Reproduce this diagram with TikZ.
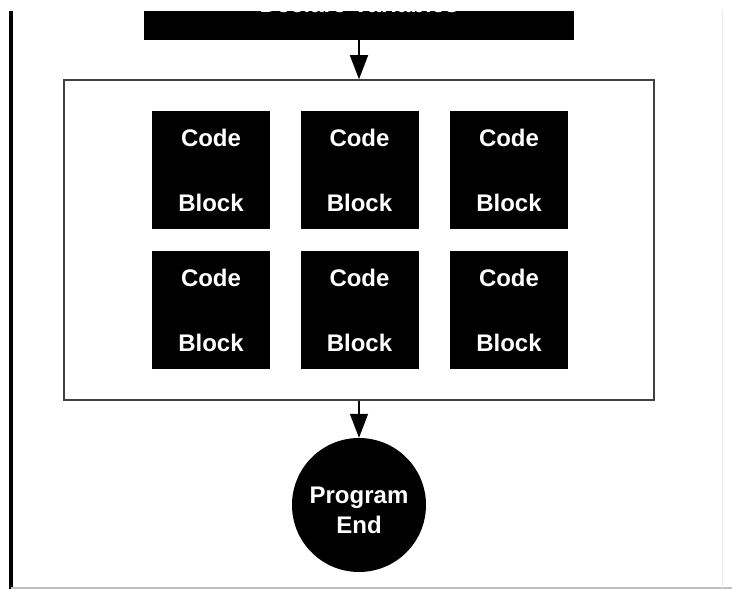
\documentclass[tikz,border=0pt]{standalone}
\usepackage{fontspec}
\setmainfont{Liberation Sans}
\usetikzlibrary{arrows.meta}

\tikzset{
  codeblk/.style={rectangle,fill=black,text=white,minimum width=118pt,minimum height=118pt,
    inner sep=0pt,align=center,font=\bfseries\fontsize{24}{65}\selectfont},
  endblob/.style={circle,fill=black,minimum size=134pt,inner sep=0pt},
  endtxt/.style={text=white,inner sep=0pt,align=center,font=\bfseries\fontsize{24}{30}\selectfont},
  flow/.style={line width=1.5pt,-{Triangle[length=24pt,width=18pt]}}
}

\begin{document}
\begin{tikzpicture}[x=1pt,y=-1pt]
  % Page
  \fill[white] (0,0) rectangle (732,591);
  \useasboundingbox (0,0) rectangle (732,591);
  % Frame lines
  \draw[line width=4pt] (11,11) -- (11,589);
  \draw[black!25,line width=1.2pt] (11,588) -- (732,588);
  \draw[black!8] (722,11) -- (722,588);
  % Declare variables (cut off at the top)
  \node[fill=black,minimum width=430pt,minimum height=29pt,inner sep=0pt] (decl) at (359,25.5) {};
  \begin{scope}
    \clip (decl.north west) rectangle (decl.south east);
    \node[anchor=base,text=white,inner sep=0pt,font=\bfseries\fontsize{24}{30}\selectfont]
      (decltxt) at (359,13) {Declare Variables};
  \end{scope}
  % Group of code blocks
  \node[draw=black!75,line width=1.5pt,minimum width=590pt,minimum height=320pt] (grp) at (359,240) {};
  \node[codeblk] (cb1) at (211,170) {Code\\Block};
  \node[codeblk] (cb2) at (359.5,170) {Code\\Block};
  \node[codeblk] (cb3) at (509,170) {Code\\Block};
  \node[codeblk] (cb4) at (211,310) {Code\\Block};
  \node[codeblk] (cb5) at (359.5,310) {Code\\Block};
  \node[codeblk] (cb6) at (509,310) {Code\\Block};
  % Program end
  \node[endblob] (pend) at (359,505) {};
  \node[endtxt] (pendtxt) at ([yshift=-5pt]pend.center) {Program\\End};
  % Arrows
  \draw[flow] (decl) -- (grp);
  \draw[flow] (grp) -- (pend);
\end{tikzpicture}
\end{document}
